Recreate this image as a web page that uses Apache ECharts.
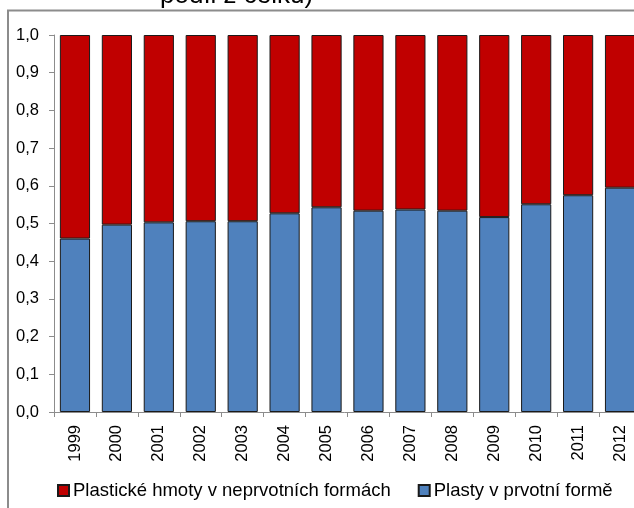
<!DOCTYPE html>
<html>
<head>
<meta charset="utf-8">
<script src="https://cdn.jsdelivr.net/npm/echarts@6/dist/echarts.min.js"></script>
<style>
html,body{margin:0;padding:0;background:#fff;overflow:hidden;}
#c{width:634px;height:508px;}
</style>
</head>
<body>
<div id="c"></div>
<script>
var years = ['1999','2000','2001','2002','2003','2004','2005','2006','2007','2008','2009','2010','2011','2012'];
var primaryShare = [0.46, 0.497, 0.503, 0.506, 0.506, 0.527, 0.543, 0.534, 0.537, 0.534, 0.517, 0.551, 0.575, 0.595];
var secondaryShare = [0.54, 0.503, 0.497, 0.494, 0.494, 0.473, 0.457, 0.466, 0.463, 0.466, 0.483, 0.449, 0.425, 0.405];
var yTicks = ['0,0','0,1','0,2','0,3','0,4','0,5','0,6','0,7','0,8','0,9','1,0'];
var nameSecondary = 'Plastické hmoty v neprvotních formách';
var namePrimary = 'Plasty v prvotní formě';
var titleTail = 'podíl z celku)';

var chart = echarts.init(document.getElementById('c'), null, {renderer: 'canvas'});
var font = 'Liberation Sans, Arial, sans-serif';
chart.setOption({
  animation: false,
  backgroundColor: '#fff',
  graphic: [
    {type: 'rect', shape: {x: 8, y: 10.5, width: 700, height: 600}, style: {fill: 'none', stroke: '#8c8c8c', lineWidth: 2}, z: -10},
    {type: 'text', left: 160, top: -17, style: {text: titleTail, font: '26px ' + font, fill: '#000'}}
  ],
  grid: {left: 54, width: 587, top: 35, bottom: 96, containLabel: false, outerBoundsMode: 'none'},
  legend: {
    data: [nameSecondary, namePrimary],
    left: 52, top: 476,
    itemWidth: 11, itemHeight: 11, itemGap: 27,
    icon: 'rect',
    textStyle: {fontFamily: font, fontSize: 18.5, color: '#000', padding: [0, 0, 0, -1]}
  },
  xAxis: {
    type: 'category',
    data: years,
    axisLine: {lineStyle: {color: '#8c8c8c', width: 1}},
    axisTick: {show: true, alignWithLabel: false, length: 5, lineStyle: {color: '#8c8c8c'}},
    axisLabel: {rotate: 90, margin: 13, fontFamily: font, fontSize: 16.5, color: '#000', interval: 0}
  },
  yAxis: {
    type: 'value',
    min: 0, max: 1, interval: 0.1,
    axisLine: {show: true, lineStyle: {color: '#8c8c8c', width: 1}},
    axisTick: {show: true, length: 5, lineStyle: {color: '#8c8c8c'}},
    splitLine: {show: false},
    axisLabel: {margin: 15, fontFamily: font, fontSize: 16.5, color: '#000',
      formatter: function (v) { return yTicks[Math.round(v * 10)]; }}
  },
  series: [
    {name: namePrimary, type: 'bar', stack: 'a', data: primaryShare, barWidth: '72%',
     itemStyle: {color: '#4F81BD', borderColor: '#1a1a1a', borderWidth: 1}},
    {name: nameSecondary, type: 'bar', stack: 'a', data: secondaryShare, barWidth: '72%',
     itemStyle: {color: '#C00000', borderColor: '#1a1a1a', borderWidth: 1}}
  ]
});
</script>
</body>
</html>
